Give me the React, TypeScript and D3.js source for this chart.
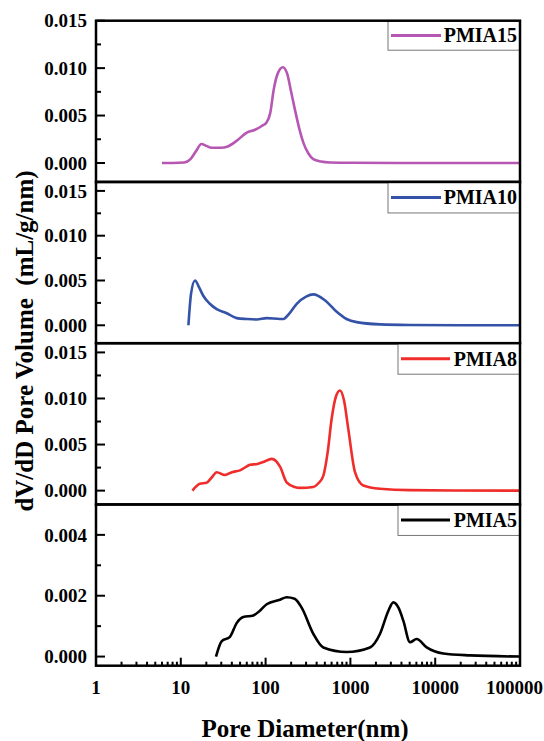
import React, {useRef, useEffect} from "react";
import * as d3 from "d3";

// pore diameter (nm) / dV/dD (mL/g/nm)
const pmia15D = [6, 8, 11, 13, 15, 17.5, 20, 23, 30, 35, 45, 60, 75, 90, 103, 113, 125, 140, 160, 180, 200, 222, 250, 280, 320, 365, 450, 575, 1000, 10000, 100000];
const pmia15V = [0, 0, 0.00005, 0.0004, 0.0012, 0.002, 0.0018, 0.0016, 0.0016, 0.0017, 0.0023, 0.0032, 0.0035, 0.0039, 0.0043, 0.0052, 0.0078, 0.0095, 0.0101, 0.0094, 0.0075, 0.0056, 0.0036, 0.0021, 0.001, 0.0004, 0.00015, 0.00005, 0.00002, 0, 0];

const pmia10D = [12.3, 13.2, 14.7, 16.5, 18.4, 22, 26.5, 34.8, 45.6, 60, 78.5, 103, 148, 162, 190, 233, 300, 365, 500, 689, 900, 1186, 2236, 5000, 20000, 100000];
const pmia10V = [0, 0.0035, 0.005, 0.0042, 0.0033, 0.0024, 0.0018, 0.00135, 0.0008, 0.0007, 0.00065, 0.0008, 0.0007, 0.0007, 0.0013, 0.0024, 0.0032, 0.00345, 0.0028, 0.0015, 0.0007, 0.00035, 0.0001, 0.00003, 0, 0];

const pmia8D = [13.7, 16.8, 20.1, 23, 26.5, 33.2, 40, 49.9, 65.5, 80, 94, 118, 148, 177, 220, 255, 365, 420, 479, 540, 601, 680, 754, 840, 944, 1133, 1419, 2236, 5000, 100000];
const pmia8V = [0, 0.00075, 0.00085, 0.0014, 0.002, 0.0017, 0.002, 0.0022, 0.0028, 0.0029, 0.0031, 0.00345, 0.0026, 0.0009, 0.0004, 0.0003, 0.0004, 0.0008, 0.0016, 0.0042, 0.0078, 0.0103, 0.01087, 0.0098, 0.0067, 0.002, 0.00056, 0.0002, 0.00005, 0];

const pmia5D = [26, 30.3, 38, 45.6, 54.6, 71.6, 85, 103, 148, 177, 220, 267, 365, 479, 903, 1702, 2236, 2800, 3207, 3700, 4207, 5043, 6043, 7940, 12470, 25700, 100000];
const pmia5V = [0, 0.0005, 0.00065, 0.0011, 0.0013, 0.00135, 0.0015, 0.00172, 0.00187, 0.00195, 0.0019, 0.0016, 0.00075, 0.0003, 0.00015, 0.0003, 0.00075, 0.0015, 0.00178, 0.0016, 0.00118, 0.00047, 0.00058, 0.0003, 0.0001, 0.00004, 0];

const panelNames = ["PMIA15", "PMIA10", "PMIA8", "PMIA5"];
const panelColors = ["#b657b3", "#3352a8", "#ef2d2a", "#000000"];
const panelDomains = [[-0.002, 0.015], [-0.002, 0.016], [-0.0015, 0.016], [-0.0003, 0.005]];
const panelTicks = [[0, 0.005, 0.01, 0.015], [0, 0.005, 0.01, 0.015], [0, 0.005, 0.01, 0.015], [0, 0.002, 0.004]];
const xTicks = [1, 10, 100, 1000, 10000, 100000];

const FONT = "Liberation Serif, Tinos, DejaVu Serif, Times New Roman, serif";

const App = () => {
  const chartSvg = useRef(null);

  const left = 96;
  const right = 520;
  const top = 20.7;
  const panelH = 161.25;
  const bottom = top + panelH * 4;

  useEffect(() => {
    const svg = d3.select(chartSvg.current);
    svg.selectAll("*").remove();

    const xScale = d3.scaleLog().domain([1, 100000]).range([left, right]);

    const series = [
      {d: pmia15D, v: pmia15V},
      {d: pmia10D, v: pmia10V},
      {d: pmia8D, v: pmia8V},
      {d: pmia5D, v: pmia5V},
    ];

    series.forEach((s, i) => {
      const y0 = top + i * panelH;
      const y1 = y0 + panelH;
      const yScale = d3.scaleLinear().domain(panelDomains[i]).range([y1, y0]);
      const g = svg.append("g");

      // y ticks (inward) + labels
      const ticks = panelTicks[i];
      const step = ticks[1] - ticks[0];
      const minor = ticks.map((t) => t + step / 2).filter((t) => t < panelDomains[i][1]);
      g.selectAll(".major")
        .data(ticks)
        .enter()
        .append("line")
        .attr("x1", left)
        .attr("x2", left + 9)
        .attr("y1", (d) => yScale(d))
        .attr("y2", (d) => yScale(d))
        .attr("stroke", "#000")
        .attr("stroke-width", 2);
      g.selectAll(".minor")
        .data(minor)
        .enter()
        .append("line")
        .attr("x1", left)
        .attr("x2", left + 5)
        .attr("y1", (d) => yScale(d))
        .attr("y2", (d) => yScale(d))
        .attr("stroke", "#000")
        .attr("stroke-width", 2);
      g.selectAll(".lbl")
        .data(ticks)
        .enter()
        .append("text")
        .attr("x", 87)
        .attr("y", (d) => yScale(d))
        .attr("dy", "0.35em")
        .attr("text-anchor", "end")
        .style("font-family", FONT)
        .attr("font-weight", "bold")
        .attr("font-size", 19)
        .text((d) => d3.format(".3f")(d));

      // curve
      const line = d3
        .line()
        .x((d) => xScale(d[0]))
        .y((d) => yScale(d[1]))
        .curve(d3.curveMonotoneX);
      g.append("path")
        .datum(s.d.map((d, k) => [d, s.v[k]]))
        .attr("d", line)
        .attr("fill", "none")
        .attr("stroke", panelColors[i])
        .attr("stroke-width", 2.6)
        .attr("stroke-linejoin", "round");

      // legend
      const lx0 = i < 2 ? 388 : 398;
      const lh = i === 0 ? 29.5 : 31;
      g.append("rect")
        .attr("x", lx0)
        .attr("y", y0)
        .attr("width", right - lx0)
        .attr("height", lh)
        .attr("fill", "#fff")
        .attr("stroke", "#777")
        .attr("stroke-width", 1);
      g.append("line")
        .attr("x1", lx0 + 3)
        .attr("x2", 450 - (i < 2 ? 9 : 0))
        .attr("y1", y0 + lh / 2)
        .attr("y2", y0 + lh / 2)
        .attr("stroke", panelColors[i])
        .attr("stroke-width", 3);
      g.append("text")
        .attr("x", 517)
        .attr("y", y0 + lh / 2)
        .attr("dy", "0.35em")
        .attr("text-anchor", "end")
        .style("font-family", FONT)
        .attr("font-weight", "bold")
        .attr("font-size", 20)
        .text(panelNames[i]);

      // panel frame
      g.append("rect")
        .attr("x", left)
        .attr("y", y0)
        .attr("width", right - left)
        .attr("height", panelH)
        .attr("fill", "none")
        .attr("stroke", "#000")
        .attr("stroke-width", 2.5);
    });

    // x axis on the bottom panel
    const xg = svg.append("g");
    const minorX = [];
    for (let p = 0; p < 5; p++) {
      for (let m = 2; m <= 9; m++) minorX.push(m * Math.pow(10, p));
    }
    xg.selectAll(".xmin")
      .data(minorX)
      .enter()
      .append("line")
      .attr("x1", (d) => xScale(d))
      .attr("x2", (d) => xScale(d))
      .attr("y1", bottom)
      .attr("y2", bottom - 4)
      .attr("stroke", "#000")
      .attr("stroke-width", 2);
    xg.selectAll(".xmaj")
      .data(xTicks)
      .enter()
      .append("line")
      .attr("x1", (d) => xScale(d))
      .attr("x2", (d) => xScale(d))
      .attr("y1", bottom)
      .attr("y2", bottom - 8)
      .attr("stroke", "#000")
      .attr("stroke-width", 2);
    xg.selectAll(".xlbl")
      .data(xTicks)
      .enter()
      .append("text")
      .attr("x", (d) => (d === 100000 ? 543 : xScale(d)))
      .attr("y", bottom + 28)
      .attr("text-anchor", (d) => (d === 100000 ? "end" : "middle"))
      .style("font-family", FONT)
      .attr("font-weight", "bold")
      .attr("font-size", 19)
      .text((d) => String(d));

    // axis titles
    svg.append("text")
      .attr("x", 305)
      .attr("y", 737)
      .attr("text-anchor", "middle")
      .style("font-family", FONT)
      .attr("font-weight", "bold")
      .attr("font-size", 25)
      .text("Pore Diameter(nm)");
    svg.append("text")
      .attr("transform", "translate(33, 341) rotate(-90)")
      .attr("text-anchor", "middle")
      .style("font-family", FONT)
      .style("white-space", "pre")
      .attr("font-weight", "bold")
      .attr("font-size", 25)
      .text("dV/dD Pore Volume  (mL/g/nm)");
  }, []);

  return (
    <svg
      ref={chartSvg}
      width={544}
      height={741}
      style={{position: "absolute", left: 0, top: 0, background: "#fff"}}
    ></svg>
  );
};

export default App;
